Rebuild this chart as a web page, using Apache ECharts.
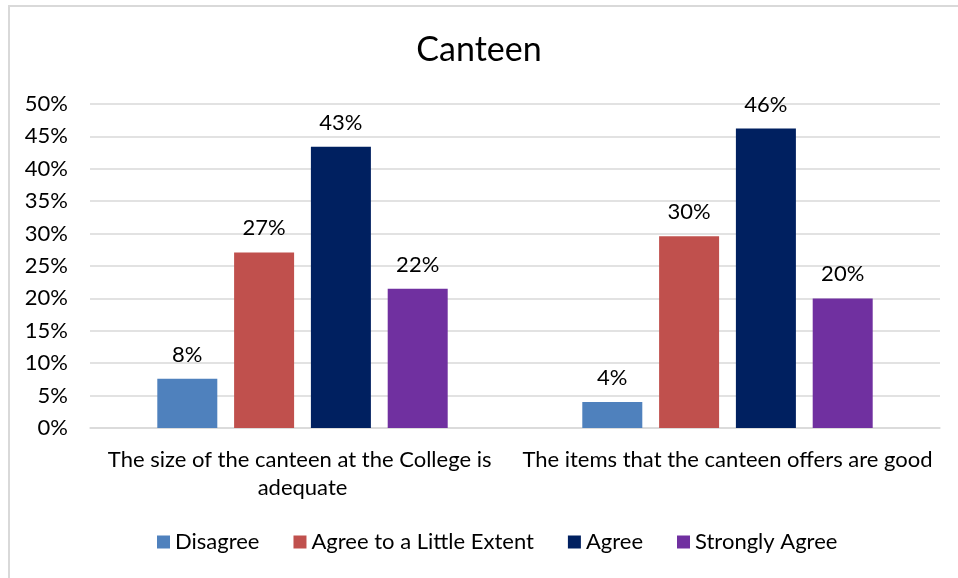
<!DOCTYPE html>
<html>
<head>
<meta charset="utf-8">
<script src="https://cdn.jsdelivr.net/npm/echarts@6/dist/echarts.min.js"></script>
<style>
  html, body { margin: 0; padding: 0; background: #fff; }
  #frame { position: absolute; left: 8px; top: 5px; width: 960px; height: 580px;
           border-left: 2px solid #d9d9d9; border-top: 2px solid #d9d9d9; }
  #chart { position: absolute; left: 0; top: 0; width: 958px; height: 578px; }
</style>
</head>
<body>
<div id="frame"></div>
<div id="chart"></div>
<script>
// 数据
const categories = ['The size of the canteen at the College is adequate', 'The items that the canteen offers are good'];
const seriesNames = ['Disagree', 'Agree to a Little Extent', 'Agree', 'Strongly Agree'];
const disagree = [7.6, 4.0];
const littleExtent = [27.1, 29.6];
const agree = [43.4, 46.2];
const stronglyAgree = [21.5, 20.0];
const colors = ['#4f81bd', '#c0504d', '#002060', '#7030a0'];
const yTicks = [0, 5, 10, 15, 20, 25, 30, 35, 40, 45, 50];

const font = 'Lato, "Open Sans", sans-serif';
const chart = echarts.init(document.getElementById('chart'));

function makeSeries(name, values, color) {
    return {
        name: name,
        type: 'bar',
        data: values,
        barWidth: 60,
        barGap: '28%',
        itemStyle: { color: color },
        label: {
            show: true,
            position: 'top',
            distance: 13,
            color: '#000',
            fontFamily: font,
            fontSize: 22,
            formatter: p => Math.round(p.value) + '%'
        }
    };
}

const option = {
    animation: false,
    title: {
        text: 'Canteen',
        left: 'center',
        top: 28,
        textStyle: { fontFamily: font, fontSize: 34, fontWeight: 'normal', color: '#000' }
    },
    legend: {
        left: 152,
        top: 526,
        itemWidth: 13,
        itemHeight: 13,
        itemGap: 34,
        icon: 'rect',
        textStyle: { fontFamily: font, fontSize: 22, color: '#000' },
        data: seriesNames
    },
    grid: { left: 90, right: 18, top: 104, bottom: 150 },
    xAxis: {
        type: 'category',
        data: categories,
        axisTick: { show: false },
        axisLine: { lineStyle: { color: '#d9d9d9', width: 1.5 } },
        axisLabel: {
            interval: 0,
            margin: 18,
            width: 425,
            overflow: 'break',
            lineHeight: 28,
            color: '#000',
            fontFamily: font,
            fontSize: 22
        }
    },
    yAxis: {
        type: 'value',
        min: yTicks[0],
        max: yTicks[yTicks.length - 1],
        interval: 5,
        axisLine: { show: false },
        axisTick: { show: false },
        splitLine: { lineStyle: { color: '#d9d9d9', width: 1.5 } },
        axisLabel: {
            margin: 22,
            color: '#000',
            fontFamily: font,
            fontSize: 22,
            formatter: v => v + '%'
        }
    },
    series: [
        makeSeries(seriesNames[0], disagree, colors[0]),
        makeSeries(seriesNames[1], littleExtent, colors[1]),
        makeSeries(seriesNames[2], agree, colors[2]),
        makeSeries(seriesNames[3], stronglyAgree, colors[3])
    ]
};

chart.setOption(option);
</script>
</body>
</html>
